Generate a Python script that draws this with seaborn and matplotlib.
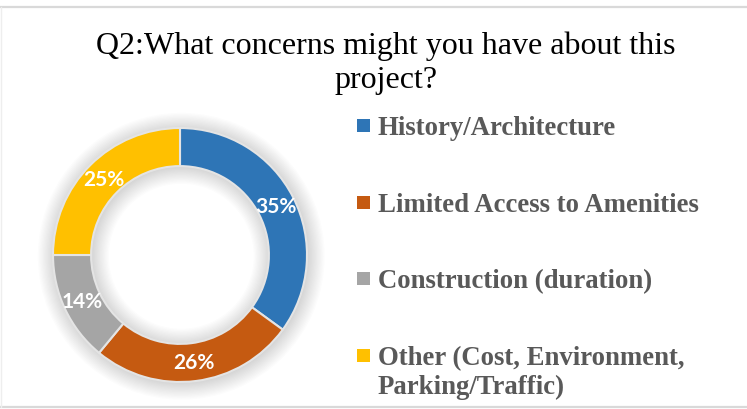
import matplotlib
matplotlib.use("Agg")
import numpy as np
import matplotlib.pyplot as plt
import seaborn as sns
from matplotlib.patches import Rectangle, Wedge
from matplotlib.lines import Line2D

categories = ["History/Architecture",
              "Limited Access to Amenities",
              "Construction (duration)",
              "Other (Cost, Environment,\nParking/Traffic)"]
shares = [35, 26, 14, 25]
colors = ["#2E75B6", "#C55A11", "#A5A5A5", "#FFC000"]
title = "Q2:What concerns might you have about this\nproject?"

sns.set_theme(style="white")
plt.rcParams["font.family"] = ["Liberation Serif", "DejaVu Serif"]

W, H = 747, 410
fig = plt.figure(figsize=(W / 100, H / 100), dpi=100)
fig.patch.set_facecolor("white")

# chart frame lines (top, bottom, faint left)
for y in (7.5, 408):
    fig.add_artist(Line2D([0, 1], [1 - y / H, 1 - y / H], transform=fig.transFigure,
                          color="#D9D9D9", linewidth=1.6))
fig.add_artist(Line2D([0.5 / W, 0.5 / W], [1 - 408 / H, 1 - 7.5 / H],
                      transform=fig.transFigure, color="#EEEEEE", linewidth=1.0))

# donut: centre (180, 256) px, outer radius 127 px
lim = 1.15
half = 127 * lim
ax = fig.add_axes([(180 - half) / W, (H - 256 - half) / H, 2 * half / W, 2 * half / H])

# soft shadow around the ring
for d in np.linspace(0.0, 0.13, 14):
    ax.add_patch(Wedge((0.01, -0.01), 1.0 + d, 0, 360, width=0.3 + 2 * d,
                       facecolor="black", alpha=0.011, edgecolor="none", zorder=0))

wedges, texts, autotexts = ax.pie(
    shares, colors=colors, startangle=90, counterclock=False,
    radius=1.0, autopct="%d%%", pctdistance=0.85,
    wedgeprops=dict(width=0.3, edgecolor="#E4E4E4", linewidth=1.5, zorder=2),
    textprops=dict(color="white", fontsize=15, fontweight="bold",
                   family=["Lato", "DejaVu Sans"], zorder=3))
ax.set_xlim(-lim, lim)
ax.set_ylim(-lim, lim)
ax.set_aspect("equal")
ax.axis("off")

fig.text(386 / W, 1 - 63 / H, title, ha="center", va="center",
         fontsize=23, color="black", linespacing=1.22)

# legend, one row per category
row_top = 127
row_step = 76.7
for i, (lab, col) in enumerate(zip(categories, colors)):
    yc = row_top + i * row_step
    fig.patches.append(Rectangle((357 / W, 1 - (yc + 6) / H), 13 / W, 13 / H,
                                 transform=fig.transFigure, facecolor=col,
                                 edgecolor="none"))
    fig.text(378 / W, 1 - (yc - 11) / H, lab, ha="left", va="top",
             fontsize=19.3, fontweight="bold", color="#595959", linespacing=1.2)

fig.savefig("out.png", dpi=100, facecolor="white")
